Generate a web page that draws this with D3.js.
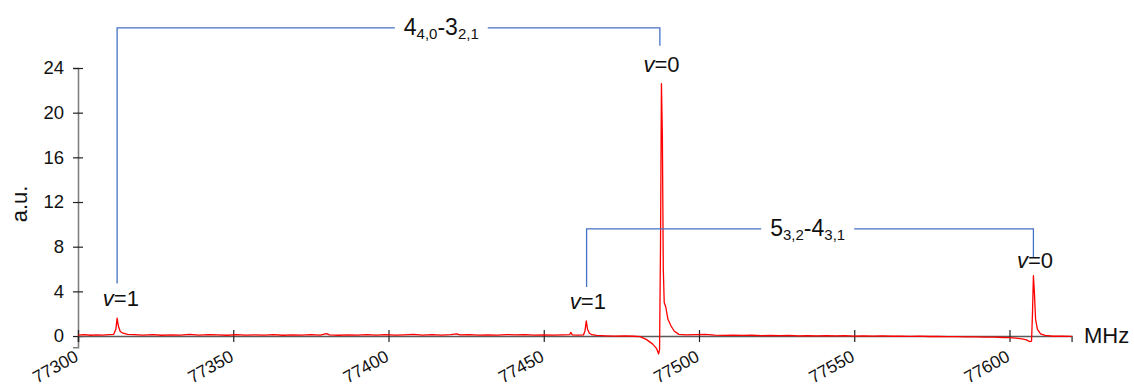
<!DOCTYPE html>
<html>
<head>
<meta charset="utf-8">
<script src="https://cdn.jsdelivr.net/npm/d3@7"></script>
<style>
  body { margin: 0; background: #fff; }
  svg { display: block; font-family: "Liberation Sans", Arial, sans-serif; }
</style>
</head>
<body>
<div id="chart"></div>
<script>
// spectrum (MHz, a.u.)
const freq = [
  77300, 77302, 77304, 77306, 77308, 77310, 77311.5, 77312.2, 77312.6, 77313.0, 77313.6, 77314.5, 77316, 77318, 77321,
  77324, 77327, 77330, 77333, 77336, 77339, 77342, 77345, 77348, 77351, 77354, 77357, 77360, 77363, 77366, 77369,
  77372, 77375, 77378, 77380, 77381, 77384, 77387, 77390, 77393, 77396, 77399, 77402, 77405, 77408, 77411, 77414,
  77417, 77420, 77422, 77423, 77426, 77429, 77432, 77435, 77438, 77441, 77444, 77447, 77450, 77453, 77456, 77458.3,
  77458.7, 77459.2, 77461, 77462.8, 77463.3, 77463.7, 77464.1, 77464.7, 77465.5, 77467, 77470, 77473, 77476, 77479,
  77481, 77483, 77485, 77486.3, 77487.0, 77487.3, 77487.6, 77487.9, 77488.2, 77488.5, 77488.8, 77489.3, 77490, 77491,
  77492, 77493.5, 77496, 77499, 77502, 77505, 77508, 77511, 77514, 77517, 77520, 77523, 77526, 77529, 77532, 77535,
  77538, 77541, 77544, 77547, 77550, 77553, 77556, 77559, 77562, 77565, 77568, 77571, 77574, 77577, 77580, 77583,
  77586, 77589, 77592, 77595, 77598, 77600, 77602, 77604, 77605.5, 77606.5, 77607.1, 77607.4, 77607.7, 77608.0,
  77608.4, 77609, 77610, 77611.5, 77614, 77617, 77620
];
const intensity = [
  0.08, 0.12, 0.07, 0.11, 0.09, 0.12, 0.15, 0.6, 1.6, 0.9, 0.4, 0.25, 0.15, 0.12, 0.08,
  0.13, 0.07, 0.11, 0.09, 0.14, 0.08, 0.12, 0.10, 0.07, 0.13, 0.09, 0.11, 0.08, 0.12, 0.07, 0.10,
  0.08, 0.12, 0.09, 0.22, 0.10, 0.07, 0.11, 0.09, 0.13, 0.08, 0.12, 0.09, 0.11, 0.14, 0.09, 0.12,
  0.08, 0.13, 0.2, 0.10, 0.12, 0.08, 0.11, 0.09, 0.13, 0.10, 0.12, 0.08, 0.11, 0.09, 0.10, 0.12,
  0.32, 0.10, 0.08, 0.10, 0.5, 1.35, 0.6, 0.25, 0.12, 0.05, 0.02, 0.00, 0.02, -0.02,
  -0.05, -0.3, -0.7, -1.1, -1.6, -1.2, 8, 22.6, 18, 6, 3.0, 2.6, 1.5, 0.9,
  0.45, 0.15, 0.10, 0.12, 0.15, 0.08, 0.06, 0.09, 0.05, 0.07, 0.04, 0.06, 0.03, 0.05, 0.02, 0.04,
  0.02, 0.03, 0.01, 0.03, 0.00, 0.02, -0.01, 0.01, -0.02, 0.00, -0.03, -0.01, -0.04, -0.03, -0.06, -0.05,
  -0.08, -0.07, -0.10, -0.10, -0.13, -0.15, -0.18, -0.25, -0.35, -0.5, -0.45, 2.0, 5.4, 4.0,
  1.5, 0.6, 0.2, 0.05, -0.02, 0.00, -0.03
];

const xTicks = [77300, 77350, 77400, 77450, 77500, 77550, 77600];
const yTicks = [0, 4, 8, 12, 16, 20, 24];

// transition brackets: [left freq, right freq, top level, left end, right end, label centre]
const bracketMain = ["4", "4,0", "3", "2,1"];
const bracketMainPos = [77312.6, 77487.4, 27.6, 4.7, 26.0, 77417];
const bracketSecond = ["5", "3,2", "4", "3,1"];
const bracketSecondPos = [77463.8, 77607.7, 9.6, 4.4, 7.0, 77535];

// vibrational state labels
const stateLabels = ["1", "0", "1", "0"];
const stateFreq = [77313.8, 77487.9, 77464.2, 77608.2];
const stateLevel = [2.65, 23.6, 2.4, 6.1];

const width = 1134, height = 387;

const svg = d3.select("#chart").append("svg")
  .attr("width", width)
  .attr("height", height);

svg.append("rect").attr("width", width).attr("height", height).attr("fill", "#fff");

const x = d3.scaleLinear().domain([77300, 77620]).range([78, 1071.6]);
const y = d3.scaleLinear().domain([-1, 24]).range([347.2, 68]);

// y axis
const yAxis = svg.append("g")
  .attr("transform", `translate(${x(77300)},0)`)
  .call(d3.axisLeft(y).tickValues(yTicks).tickSizeOuter(0).tickSize(5).tickPadding(9));
yAxis.select(".domain").attr("stroke", "#808080").attr("stroke-width", 1.6);
yAxis.selectAll(".tick line").attr("x1", -5).attr("x2", 5).attr("stroke", "#222").attr("stroke-width", 1.2);
yAxis.selectAll(".tick text").attr("font-size", 18.5).attr("fill", "#111")
  .attr("font-family", "Liberation Sans, Arial, sans-serif");

// x axis at zero
const xAxis = svg.append("g")
  .attr("transform", `translate(0,${y(0)})`)
  .call(d3.axisBottom(x).tickValues(xTicks).tickFormat(d3.format("d")).tickSizeOuter(0).tickSize(6));
xAxis.select(".domain").attr("stroke", "#5a5a5a").attr("stroke-width", 1.6);
xAxis.selectAll(".tick line").attr("y1", -6).attr("y2", 6).attr("stroke", "#222").attr("stroke-width", 1.2);
xAxis.selectAll(".tick text")
  .attr("font-size", 17.5).attr("fill", "#111")
  .attr("font-family", "Liberation Sans, Arial, sans-serif")
  .attr("text-anchor", "end")
  .attr("x", 0).attr("y", 0).attr("dy", 0)
  .attr("transform", "translate(1,24) rotate(-29)");

// axis titles
svg.append("text")
  .attr("transform", `translate(27,${(y(0) + y(24)) / 2 + 2}) rotate(-90)`)
  .attr("text-anchor", "middle")
  .attr("font-size", 22)
  .attr("fill", "#111")
  .text("a.u.");

svg.append("text")
  .attr("x", 1084).attr("y", y(0) + 7)
  .attr("font-size", 22)
  .attr("fill", "#111")
  .text("MHz");

// spectrum
const line = d3.line()
  .x((d, i) => x(freq[i]))
  .y(d => y(d));

svg.append("path")
  .datum(intensity)
  .attr("fill", "none")
  .attr("stroke", "#ff0000")
  .attr("stroke-width", 1.3)
  .attr("stroke-linejoin", "round")
  .attr("d", line);

// brackets
function drawBracket(parts, pos) {
  const [f1, f2, top, e1, e2, fc] = pos;
  const g = svg.append("g");
  const label = g.append("text")
    .attr("x", x(fc))
    .attr("y", y(top) + 7)
    .attr("text-anchor", "middle")
    .attr("font-size", 23)
    .attr("fill", "#111");
  label.append("tspan").text(parts[0]);
  label.append("tspan").attr("font-size", 15).attr("dy", 4).text(parts[1]);
  label.append("tspan").attr("dy", -4).text("-" + parts[2]);
  label.append("tspan").attr("font-size", 15).attr("dy", 4).text(parts[3]);
  const bb = label.node().getBBox();
  const pad = 9;
  g.append("path")
    .attr("fill", "none")
    .attr("stroke", "#4472c4")
    .attr("stroke-width", 1.3)
    .attr("d", `M${x(f1)},${y(e1)}V${y(top)}H${bb.x - pad}`);
  g.append("path")
    .attr("fill", "none")
    .attr("stroke", "#4472c4")
    .attr("stroke-width", 1.3)
    .attr("d", `M${bb.x + bb.width + pad},${y(top)}H${x(f2)}V${y(e2)}`);
}
drawBracket(bracketMain, bracketMainPos);
drawBracket(bracketSecond, bracketSecondPos);

// v= labels
stateLabels.forEach((s, i) => {
  const t = svg.append("text")
    .attr("x", x(stateFreq[i]))
    .attr("y", y(stateLevel[i]))
    .attr("text-anchor", "middle")
    .attr("font-size", 22)
    .attr("fill", "#111");
  t.append("tspan").attr("font-style", "italic").text("v");
  t.append("tspan").text("=" + s);
});
</script>
</body>
</html>
